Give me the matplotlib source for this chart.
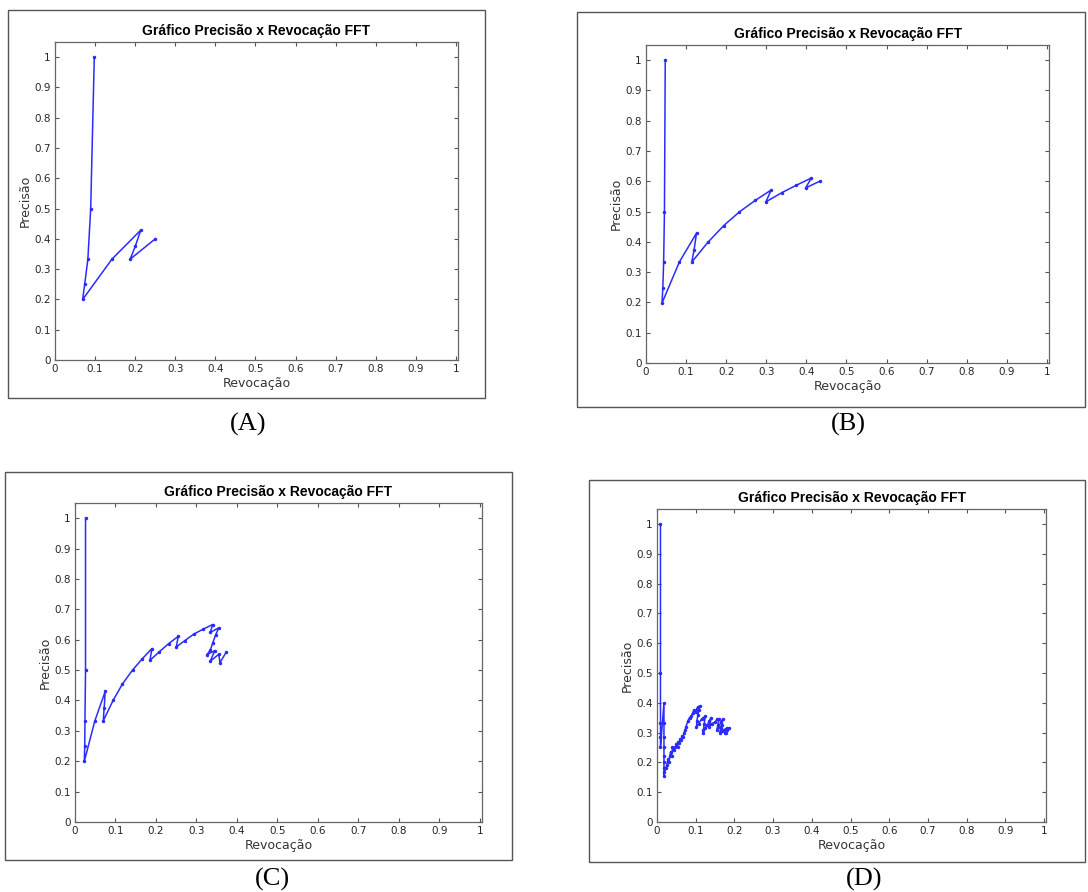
import matplotlib
matplotlib.use("Agg")
import matplotlib.pyplot as plt
from matplotlib.patches import Rectangle

W, H = 1088, 892

TITLE = "Gráfico Precisão x Revocação FFT"
X_LABEL = "Revocação"
Y_LABEL = "Precisão"
PANEL_LABELS = ["(A)", "(B)", "(C)", "(D)"]
TICKS = [0, 0.1, 0.2, 0.3, 0.4, 0.5, 0.6, 0.7, 0.8, 0.9, 1]
TICK_LABELS = ["0", "0.1", "0.2", "0.3", "0.4", "0.5", "0.6", "0.7", "0.8", "0.9", "1"]

# Panel A
recall_a = [0.098, 0.089, 0.082, 0.074, 0.069, 0.142, 0.214, 0.200, 0.1875, 0.250]
precision_a = [1.0, 0.5, 0.333, 0.25, 0.2, 0.333, 0.429, 0.375, 0.333, 0.4]

# Panel B
recall_b = [0.048, 0.046, 0.044, 0.042, 0.040, 0.083, 0.126, 0.120, 0.114, 0.154,
            0.194, 0.233, 0.2725, 0.312, 0.299, 0.338, 0.375, 0.4125, 0.398, 0.433]
precision_b = [1.0, 0.5, 0.333, 0.249, 0.198, 0.333, 0.429, 0.374, 0.333, 0.398,
               0.454, 0.499, 0.537, 0.571, 0.532, 0.562, 0.587, 0.611, 0.578, 0.60]

# Panel C
recall_c = [0.026, 0.026, 0.0246, 0.024, 0.023, 0.049, 0.0746, 0.072, 0.0697, 0.094,
            0.117, 0.142, 0.166, 0.190, 0.185, 0.208, 0.231, 0.255, 0.250, 0.271,
            0.294, 0.317, 0.340, 0.334, 0.355, 0.347, 0.340, 0.334, 0.325, 0.345,
            0.334, 0.355, 0.358, 0.373]
precision_c = [1.0, 0.5, 0.333, 0.25, 0.2, 0.333, 0.43, 0.375, 0.333, 0.40,
               0.454, 0.50, 0.537, 0.571, 0.532, 0.56, 0.587, 0.611, 0.576, 0.597,
               0.619, 0.635, 0.65, 0.624, 0.639, 0.615, 0.589, 0.565, 0.55, 0.564,
               0.529, 0.552, 0.525, 0.558]

# Panel D
recall_d = [0.009, 0.009, 0.009, 0.009, 0.009, 0.018, 0.018, 0.018, 0.018, 0.018,
            0.018, 0.018, 0.018, 0.018, 0.022, 0.025, 0.028, 0.030, 0.033, 0.035,
            0.038, 0.040, 0.043, 0.047, 0.050, 0.053, 0.055, 0.058, 0.060, 0.063,
            0.065, 0.068, 0.070, 0.073, 0.075, 0.080, 0.084, 0.088, 0.092, 0.095,
            0.100, 0.103, 0.105, 0.108, 0.110, 0.106, 0.103, 0.102, 0.108, 0.115,
            0.120, 0.125, 0.122, 0.120, 0.118, 0.124, 0.130, 0.135, 0.140, 0.137,
            0.135, 0.142, 0.150, 0.155, 0.160, 0.157, 0.155, 0.160, 0.165, 0.170,
            0.167, 0.165, 0.162, 0.168, 0.174, 0.180, 0.177, 0.175, 0.180, 0.185]
precision_d = [1.0, 0.5, 0.333, 0.286, 0.25, 0.40, 0.333, 0.286, 0.25, 0.222,
               0.20, 0.182, 0.167, 0.154, 0.18, 0.19, 0.21, 0.20, 0.22, 0.235,
               0.22, 0.25, 0.24, 0.25, 0.26, 0.25, 0.27, 0.265, 0.28, 0.275,
               0.29, 0.285, 0.30, 0.31, 0.32, 0.34, 0.35, 0.355, 0.365, 0.375,
               0.37, 0.38, 0.385, 0.375, 0.39, 0.36, 0.34, 0.32, 0.33, 0.345,
               0.35, 0.355, 0.33, 0.31, 0.30, 0.315, 0.325, 0.34, 0.35, 0.33,
               0.32, 0.33, 0.335, 0.345, 0.345, 0.325, 0.31, 0.32, 0.335, 0.345,
               0.325, 0.315, 0.30, 0.305, 0.31, 0.315, 0.30, 0.30, 0.31, 0.315]

# (frame box, axes box, label position) in pixels: left, top, right, bottom
PANELS = [
    ((8, 10, 485, 398), (55, 42, 458, 360), (248, 424)),
    ((577, 12, 1085, 407), (646, 45, 1049, 363), (848, 424)),
    ((5, 472, 512, 860), (75, 503, 482, 822), (272, 879)),
    ((589, 480, 1085, 862), (657, 509, 1046, 822), (864, 879)),
]

series = [
    (recall_a, precision_a),
    (recall_b, precision_b),
    (recall_c, precision_c),
    (recall_d, precision_d),
]

fig = plt.figure(figsize=(W / 100, H / 100), dpi=100)
fig.patch.set_facecolor("white")

for (frame, box, lab), (rec, prec), name in zip(PANELS, series, PANEL_LABELS):
    fl, ft, fr, fb = frame
    fig.patches.append(Rectangle((fl / W, 1 - fb / H), (fr - fl) / W, (fb - ft) / H,
                                 transform=fig.transFigure, fill=False,
                                 edgecolor="#555555", lw=1.0))

    l, t, r, b = box
    ax = fig.add_axes([l / W, 1 - b / H, (r - l) / W, (b - t) / H])
    ax.plot(rec, prec, color="#2b2bff", lw=1.1, marker=".", markersize=3)
    ax.set_xlim(0, 1.005)
    ax.set_ylim(0, 1.05)
    ax.set_xticks(TICKS)
    ax.set_xticklabels(TICK_LABELS)
    ax.set_yticks(TICKS)
    ax.set_yticklabels(TICK_LABELS)
    ax.tick_params(direction="in", top=True, right=True, length=3, width=0.8,
                   labelsize=7.5, colors="#555555", labelcolor="#262626", pad=3)
    for spine in ax.spines.values():
        spine.set_color("#666666")
        spine.set_linewidth(0.9)
    ax.set_title(TITLE, fontsize=10, fontweight="bold", family="Liberation Sans", pad=5)
    ax.set_xlabel(X_LABEL, fontsize=9, color="#333333", labelpad=2)
    ax.set_ylabel(Y_LABEL, fontsize=9, color="#333333", labelpad=2)

    fig.text(lab[0] / W, 1 - lab[1] / H, name, ha="center", va="center",
             family="Liberation Serif", fontsize=19)

fig.savefig("out.png", dpi=100)
